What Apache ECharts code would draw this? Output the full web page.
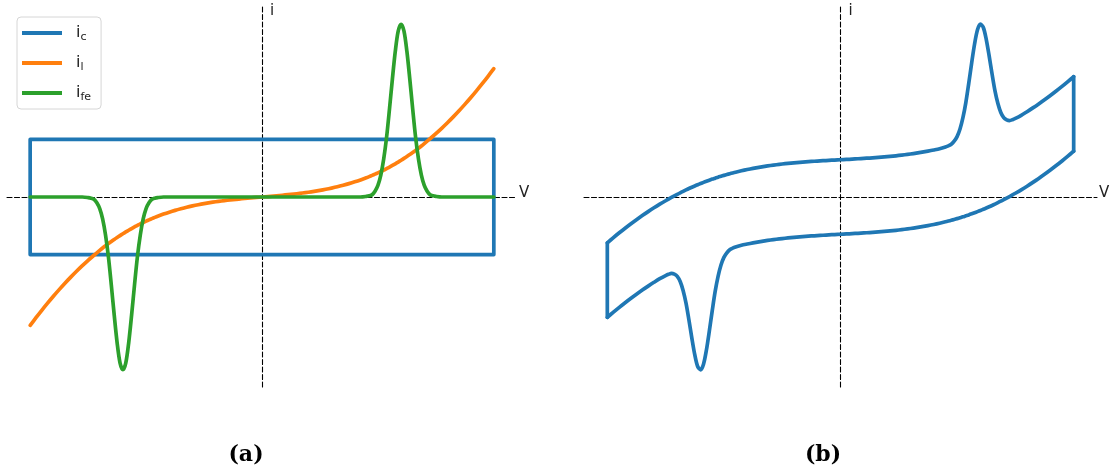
<!DOCTYPE html>
<html>
<head>
<meta charset="utf-8">
<script src="https://cdn.jsdelivr.net/npm/echarts@6/dist/echarts.min.js"></script>
<style>
  html, body { margin: 0; padding: 0; background: #fff; }
  #chart { width: 1114px; height: 476px; }
</style>
</head>
<body>
<div id="chart"></div>
<script>
// Potential sweep samples (V), finer around the two Faradaic peaks
const V = [
  -1.000, -0.975, -0.950, -0.925, -0.900, -0.875, -0.850, -0.825, -0.800, -0.775,
  -0.7500, -0.7375, -0.7250, -0.7125, -0.7000, -0.6875, -0.6750, -0.6625, -0.6500, -0.6375,
  -0.6250, -0.6125, -0.6000, -0.5875, -0.5750, -0.5625, -0.5500, -0.5375, -0.5250, -0.5125,
  -0.5000, -0.4875, -0.4750, -0.4625, -0.4500,
  -0.425, -0.400, -0.375, -0.350, -0.325, -0.300, -0.275, -0.250, -0.225, -0.200,
  -0.175, -0.150, -0.125, -0.100, -0.075, -0.050, -0.025, 0.000, 0.025, 0.050,
   0.075, 0.100, 0.125, 0.150, 0.175, 0.200, 0.225, 0.250, 0.275, 0.300,
   0.325, 0.350, 0.375, 0.400, 0.425,
   0.4500, 0.4625, 0.4750, 0.4875, 0.5000, 0.5125, 0.5250, 0.5375, 0.5500, 0.5625,
   0.5750, 0.5875, 0.6000, 0.6125, 0.6250, 0.6375, 0.6500, 0.6625, 0.6750, 0.6875,
   0.7000, 0.7125, 0.7250, 0.7375, 0.7500,
   0.775, 0.800, 0.825, 0.850, 0.875, 0.900, 0.925, 0.950, 0.975, 1.000
];

// Capacitive current amplitude (+ on forward sweep, - on reverse sweep)
const icAmp = 1;

// Leakage current i_l at each V
const il = [
  -2.230, -2.097, -1.968, -1.844, -1.724, -1.609, -1.498, -1.392, -1.290, -1.193,
  -1.100, -1.055, -1.012, -0.970, -0.928, -0.887, -0.848, -0.810, -0.773, -0.737,
  -0.703, -0.670, -0.638, -0.607, -0.577, -0.548, -0.520, -0.494, -0.468, -0.444,
  -0.420, -0.397, -0.375, -0.354, -0.334,
  -0.297, -0.263, -0.232, -0.204, -0.178, -0.155, -0.134, -0.115, -0.098, -0.083,
  -0.069, -0.057, -0.046, -0.036, -0.026, -0.017, -0.008, 0.000, 0.008, 0.017,
   0.026, 0.036, 0.046, 0.057, 0.069, 0.083, 0.098, 0.115, 0.134, 0.155,
   0.178, 0.204, 0.232, 0.263, 0.297,
   0.334, 0.354, 0.375, 0.397, 0.420, 0.444, 0.468, 0.494, 0.520, 0.548,
   0.577, 0.607, 0.638, 0.670, 0.703, 0.737, 0.773, 0.810, 0.848, 0.887,
   0.928, 0.970, 1.012, 1.055, 1.100,
   1.193, 1.290, 1.392, 1.498, 1.609, 1.724, 1.844, 1.968, 2.097, 2.230
];

// Faradaic current i_fe: reduction dip near -0.6, oxidation peak near +0.6
const ife = [
   0, 0, 0, 0, 0, 0, 0, 0, 0, 0,
  -0.01, -0.02, -0.04, -0.10, -0.20, -0.38, -0.66, -1.04, -1.53, -2.05,
  -2.53, -2.88, -3.00, -2.88, -2.53, -2.05, -1.53, -1.04, -0.66, -0.38,
  -0.20, -0.10, -0.04, -0.02, -0.01,
   0, 0, 0, 0, 0, 0, 0, 0, 0, 0,
   0, 0, 0, 0, 0, 0, 0, 0, 0, 0,
   0, 0, 0, 0, 0, 0, 0, 0, 0, 0,
   0, 0, 0, 0, 0,
   0.01, 0.02, 0.04, 0.10, 0.20, 0.38, 0.66, 1.04, 1.53, 2.05,
   2.53, 2.88, 3.00, 2.88, 2.53, 2.05, 1.53, 1.04, 0.66, 0.38,
   0.20, 0.10, 0.04, 0.02, 0.01,
   0, 0, 0, 0, 0, 0, 0, 0, 0, 0
];

const seriesNames = ['ic', 'il', 'ife'];
const colors = { ic: '#1f77b4', il: '#ff7f0e', ife: '#2ca02c' };
const panelLabels = ['(a)', '(b)'];

const last = V.length - 1;

// Panel (a): the three current components
const icRect = [
  [V[0], icAmp], [V[last], icAmp], [V[last], -icAmp], [V[0], -icAmp], [V[0], icAmp]
];
const ilLine = V.map((v, k) => [v, il[k]]);
const ifeLine = V.map((v, k) => [v, ife[k]]);

// Panel (b): total current around the cycle
const fwd = V.map((v, k) => [v, icAmp + il[k] + Math.max(ife[k], 0)]);
const rev = V.map((v, k) => [v, -icAmp + il[k] + Math.min(ife[k], 0)]);
const rightEdge = [[V[last], fwd[last][1]], [V[last], rev[last][1]]];
const leftEdge = [[V[0], rev[0][1]], [V[0], fwd[0][1]]];

const dash = [5, 2.5];
const LW = 3.7;

function axisPair(gridIndex, yLim) {
  const x = {
    type: 'value', gridIndex, min: -1.1, max: 1.1,
    axisLine: { onZero: true, lineStyle: { color: '#000', width: 1.1, type: dash } },
    axisTick: { show: false }, axisLabel: { show: false }, splitLine: { show: false },
    name: 'V', nameLocation: 'end', nameGap: 2,
    nameTextStyle: { fontFamily: 'DejaVu Sans', fontSize: 15, color: '#222',
                     align: 'left', verticalAlign: 'bottom', lineHeight: 8 }
  };
  const y = {
    type: 'value', gridIndex, min: -yLim, max: yLim,
    axisLine: { onZero: true, lineStyle: { color: '#000', width: 1.1, type: dash } },
    axisTick: { show: false }, axisLabel: { show: false }, splitLine: { show: false },
    name: 'i', nameLocation: 'end', nameGap: 3,
    nameTextStyle: { fontFamily: 'DejaVu Sans', fontSize: 15, color: '#222',
                     align: 'left', verticalAlign: 'top', padding: [0, 0, 0, 8] }
  };
  return [x, y];
}

const [xa, ya] = axisPair(0, 3.3);
const [xb, yb] = axisPair(1, 5.1);

function line(name, data, color, xi, smooth) {
  return {
    type: 'line', name, data, xAxisIndex: xi, yAxisIndex: xi,
    symbol: 'none', smooth: smooth ? 0.3 : false, silent: true,
    lineStyle: { color, width: LW, cap: 'round', join: 'round' },
    itemStyle: { color }, z: 2
  };
}

const option = {
  animation: false,
  backgroundColor: '#fff',
  grid: [
    { left: 7, top: 7, width: 510, height: 380 },
    { left: 584, top: 7, width: 513, height: 380 }
  ],
  xAxis: [xa, xb],
  yAxis: [ya, yb],
  legend: {
    data: seriesNames,
    orient: 'vertical', left: 17, top: 17,
    icon: 'rect', itemWidth: 40, itemHeight: 4, itemGap: 12,
    padding: [8, 10, 6, 5],
    borderColor: '#d6d6d6', borderWidth: 1, borderRadius: 4,
    backgroundColor: 'rgba(255,255,255,0.8)',
    formatter: n => '{m|i}{s|' + n.slice(1) + '}',
    textStyle: {
      rich: {
        m: { fontFamily: 'DejaVu Sans', fontSize: 16, color: '#222', padding: [0, 0, 0, 9] },
        s: { fontFamily: 'DejaVu Sans', fontSize: 11, color: '#222', padding: [9, 0, 0, 0] }
      }
    }
  },
  graphic: panelLabels.map((t, k) => ({
    type: 'text', x: k === 0 ? 246 : 823, y: 455,
    style: { text: t, font: 'bold 22px "DejaVu Serif"', fill: '#000',
             align: 'center', verticalAlign: 'middle' }
  })),
  series: [
    line('ic', icRect, colors.ic, 0, false),
    line('il', ilLine, colors.il, 0, true),
    line('ife', ifeLine, colors.ife, 0, true),
    line('total-forward', fwd, colors.ic, 1, true),
    line('total-reverse', rev, colors.ic, 1, true),
    line('total-right', rightEdge, colors.ic, 1, false),
    line('total-left', leftEdge, colors.ic, 1, false)
  ]
};

const chart = echarts.init(document.getElementById('chart'), null, { renderer: 'canvas' });
chart.setOption(option);
</script>
</body>
</html>
